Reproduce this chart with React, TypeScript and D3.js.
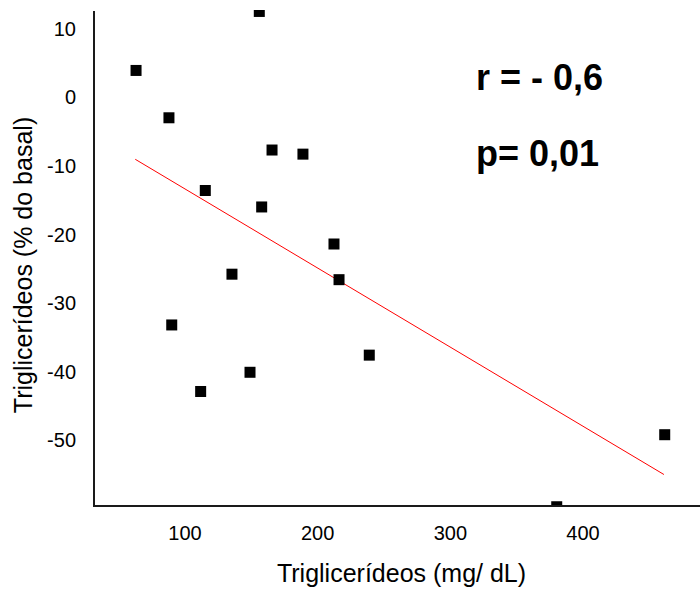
import React from "react";
import * as d3 from "d3";

const tgMgDl = [63.1, 87.9, 156.0, 165.6, 188.9, 115.3, 157.8, 212.3, 135.4, 216.1, 90.0, 238.9, 149.0, 111.8, 461.6, 380.2];
const tgPctBasal = [3.9, -3.0, 12.5, -7.7, -8.3, -13.6, -16.0, -21.4, -25.8, -26.6, -33.2, -37.6, -40.1, -42.9, -49.2, -59.7];
const fitX = [62.5, 461.0];
const fitY = [-9.05, -55.0];
const xTicks = [100, 200, 300, 400];
const yTicks = [10, 0, -10, -20, -30, -40, -50];
const statLines = ["r = - 0,6", "p= 0,01"];

const W = 700;
const H = 589;
const left = 94;
const right = 700;
const top = 10;
const bottom = 506;

export default function App() {
  const x = d3.scaleLinear().domain([100, 400]).range([185, 583]);
  const y = d3.scaleLinear().domain([-20, 0]).range([234.4, 97.2]);
  const line = d3
    .line<number>()
    .x((_, i) => x(fitX[i]))
    .y((_, i) => y(fitY[i]));
  const sq = 11;
  const font = "'Liberation Sans', Arial, sans-serif";
  return (
    <svg
      width={W}
      height={H}
      style={{ position: "absolute", left: 0, top: 0, background: "#fff" }}
      fontFamily={font}
    >
      <defs>
        <clipPath id="plot">
          <rect x={left} y={top} width={right - left} height={bottom - top} />
        </clipPath>
      </defs>
      <g clipPath="url(#plot)">
        <path d={line(fitX) || ""} stroke="#ff0000" strokeWidth={1} fill="none" />
        {tgMgDl.map((v, i) => (
          <rect
            key={i}
            x={x(v) - sq / 2}
            y={y(tgPctBasal[i]) - sq / 2}
            width={sq}
            height={sq}
            fill="#000"
          />
        ))}
      </g>
      <line x1={left} x2={left} y1={top + 1} y2={bottom} stroke="#1a1a1a" strokeWidth={2} />
      <line x1={left - 1} x2={right} y1={bottom} y2={bottom} stroke="#1a1a1a" strokeWidth={2} />
      {yTicks.map((t) => (
        <text key={t} x={76} y={y(t)} dy="0.36em" textAnchor="end" fontSize={20} fill="#000">
          {t}
        </text>
      ))}
      {xTicks.map((t) => (
        <text key={t} x={x(t)} y={540} textAnchor="middle" fontSize={20} fill="#000">
          {t}
        </text>
      ))}
      <text x={401.5} y={581.5} textAnchor="middle" fontSize={25} fill="#000">
        Triglicerídeos (mg/ dL)
      </text>
      <text
        transform={`translate(31.5,265) rotate(-90)`}
        textAnchor="middle"
        fontSize={25}
        fill="#000"
      >
        Triglicerídeos (% do basal)
      </text>
      <text x={476} y={90} fontSize={36} fontWeight="bold" fill="#000">
        {statLines[0]}
      </text>
      <text x={476} y={165.5} fontSize={36} fontWeight="bold" fill="#000">
        {statLines[1]}
      </text>
    </svg>
  );
}
